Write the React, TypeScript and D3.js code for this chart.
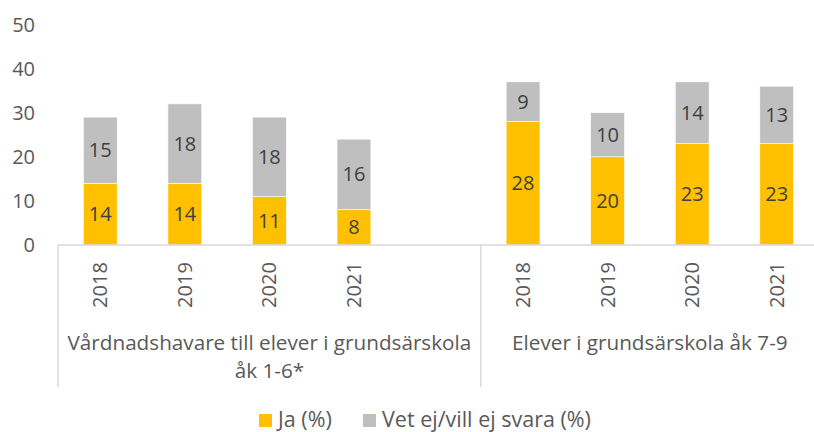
import React from "react";
import * as d3 from "d3";

const years = ["2018", "2019", "2020", "2021"];
const groupLabels = [
  ["Vårdnadshavare till elever i grundsärskola", "åk 1-6*"],
  ["Elever i grundsärskola åk 7-9"],
];
const jaGroup1 = [14, 14, 11, 8];
const vetGroup1 = [15, 18, 18, 16];
const jaGroup2 = [28, 20, 23, 23];
const vetGroup2 = [9, 10, 14, 13];
const yTicks = [0, 10, 20, 30, 40, 50];
const seriesNames = ["Ja (%)", "Vet ej/vill ej svara (%)"];
const colors = ["#FFC000", "#BFBFBF"];

type Cat = { key: string; year: string; ja: number | null; vet: number | null; group: number };

const cats: Cat[] = [
  ...years.map((y, i) => ({ key: "a" + y, year: y, ja: jaGroup1[i], vet: vetGroup1[i], group: 0 })),
  { key: "gap", year: "", ja: null, vet: null, group: 0 },
  ...years.map((y, i) => ({ key: "b" + y, year: y, ja: jaGroup2[i], vet: vetGroup2[i], group: 1 })),
];

const W = 814;
const H = 432;
const FONT = "'Open Sans', sans-serif";

export default function App() {
  const x = d3
    .scaleBand<string>()
    .domain(cats.map((c) => c.key))
    .range([58, 819])
    .paddingInner(0.6)
    .paddingOuter(0.3);
  const y = d3.scaleLinear().domain([0, 50]).range([245, 24.5]);
  const step = x.step();
  const x0 = 58;
  const groupBounds = [
    [x0, x0 + step * 5],
    [x0 + step * 5, x0 + step * 9],
  ];
  const axisColor = "#D9D9D9";
  const textColor = "#595959";
  const labelColor = "#404040";

  return (
    <svg
      width={W}
      height={H}
      style={{ position: "fixed", left: 0, top: 0, background: "#fff" }}
      fontFamily={FONT}
    >
      {yTicks.map((t) => (
        <text
          key={t}
          x={35}
          y={y(t)}
          dy="0.35em"
          textAnchor="end"
          fontSize={20}
          fill={textColor}
        >
          {t}
        </text>
      ))}
      {cats.map((c) => {
        if (c.ja == null || c.vet == null) return null;
        const bx = x(c.key)!;
        const bw = x.bandwidth();
        const cx = bx + bw / 2;
        const y0 = y(0);
        const y1 = y(c.ja);
        const y2 = y(c.ja + c.vet);
        return (
          <g key={c.key}>
            <rect x={bx} y={y1} width={bw} height={y0 - y1} fill={colors[0]} stroke="#fff" strokeWidth={0.6} />
            <rect x={bx} y={y2} width={bw} height={y1 - y2} fill={colors[1]} stroke="#fff" strokeWidth={0.6} />
            <text x={cx} y={(y0 + y1) / 2} dy="0.35em" textAnchor="middle" fontSize={20} fill={labelColor}>
              {c.ja}
            </text>
            <text x={cx} y={(y1 + y2) / 2} dy="0.35em" textAnchor="middle" fontSize={20} fill={labelColor}>
              {c.vet}
            </text>
          </g>
        );
      })}
      <line x1={x0} x2={W} y1={y(0)} y2={y(0)} stroke={axisColor} strokeWidth={1.5} />
      {[groupBounds[0][0], groupBounds[1][0], groupBounds[1][1]].map((gx, i) => (
        <line key={i} x1={gx} x2={gx} y1={y(0)} y2={387} stroke={axisColor} strokeWidth={1.5} />
      ))}
      {cats.map((c) => {
        if (!c.year) return null;
        const cx = x(c.key)! + x.bandwidth() / 2;
        return (
          <text
            key={"t" + c.key}
            transform={`translate(${cx},${285}) rotate(-90)`}
            dy="0.35em"
            textAnchor="middle"
            fontSize={20}
            fill={textColor}
          >
            {c.year}
          </text>
        );
      })}
      {groupLabels.map((lines, gi) => {
        const cx = (groupBounds[gi][0] + groupBounds[gi][1]) / 2;
        return (
          <text key={"g" + gi} textAnchor="middle" fontSize={20.7} fill={textColor}>
            {lines.map((l, li) => (
              <tspan key={li} x={cx} y={350 + li * 28}>
                {l}
              </tspan>
            ))}
          </text>
        );
      })}
      <g>
        <rect x={259} y={414} width={13} height={13} fill={colors[0]} />
        <text x={278} y={419} dy="0.35em" fontSize={21.5} fill={textColor}>
          {seriesNames[0]}
        </text>
        <rect x={363} y={414} width={13} height={13} fill={colors[1]} />
        <text x={382} y={419} dy="0.35em" fontSize={21.5} fill={textColor}>
          {seriesNames[1]}
        </text>
      </g>
    </svg>
  );
}
